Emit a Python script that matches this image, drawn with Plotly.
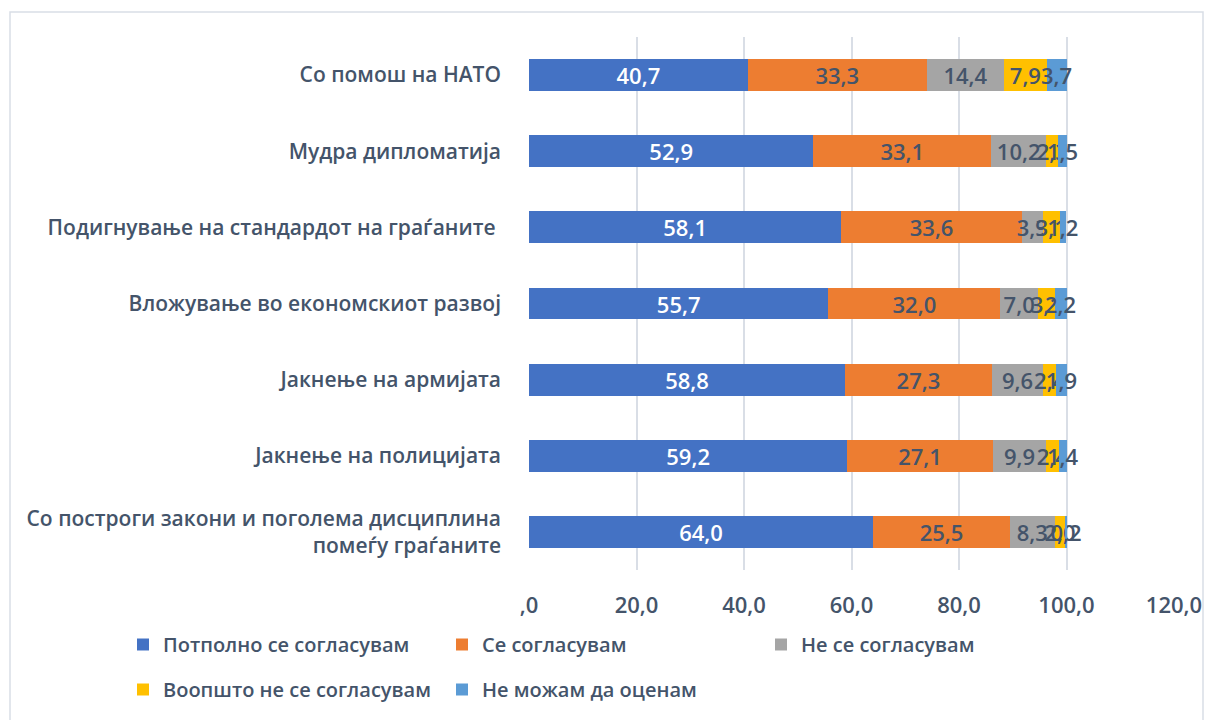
import plotly.graph_objects as go

categories = [
    "Со построги закони и поголема дисциплина<br>помеѓу граѓаните",
    "Јакнење на полицијата",
    "Јакнење на армијата",
    "Вложување во економскиот развој",
    "Подигнување на стандардот на граѓаните ",
    "Мудра дипломатија",
    "Со помош на НАТО",
]
series_names = [
    "Потполно се согласувам",
    "Се согласувам",
    "Не се согласувам",
    "Воопшто не се согласувам",
    "Не можам да оценам",
]
potpolno = [64.0, 59.2, 58.8, 55.7, 58.1, 52.9, 40.7]
se_soglasuvam = [25.5, 27.1, 27.3, 32.0, 33.6, 33.1, 33.3]
ne_se = [8.3, 9.9, 9.6, 7.0, 3.9, 10.2, 14.4]
voopshto = [2.0, 2.4, 2.4, 3.1, 3.1, 2.3, 7.9]
ne_mozam = [0.2, 1.4, 1.9, 2.2, 1.2, 1.5, 3.7]
tick_vals = [0, 20, 40, 60, 80, 100, 120]
tick_text = [",0", "20,0", "40,0", "60,0", "80,0", "100,0", "120,0"]

values = [potpolno, se_soglasuvam, ne_se, voopshto, ne_mozam]
colors = ["#4472C4", "#ED7D31", "#A5A5A5", "#FFC000", "#5B9BD5"]
text_colors = ["#FFFFFF", "#44546A", "#44546A", "#44546A", "#44546A"]
legends = ["legend", "legend", "legend", "legend2", "legend2"]

FONT = "Open Sans"
TXT = "#44546A"
WT = 600

fig = go.Figure()
for name, vals, col, tcol, lg in zip(series_names, values, colors, text_colors, legends):
    fig.add_trace(go.Bar(
        y=categories, x=vals, name=name, orientation="h",
        marker=dict(color=col, line=dict(width=0)),
        text=[f"{v:.1f}".replace(".", ",") for v in vals],
        textposition="inside", insidetextanchor="middle", textangle=0,
        constraintext="none",
        textfont=dict(family=FONT, size=22, color=tcol, weight=WT),
        legend=lg, cliponaxis=False,
    ))

L, R, T, B = 529, 1174, 37, 570
W, H = 1206, 720
pw, ph = R - L, B - T

def px(x):
    return (x - L) / pw

def py(y):
    return (B - y) / ph

fig.update_layout(
    width=W, height=H,
    margin=dict(l=L, r=W - R, t=T, b=H - B, autoexpand=False),
    barmode="stack", bargap=0.58,
    plot_bgcolor="white", paper_bgcolor="white",
    font=dict(family=FONT, color=TXT),
    xaxis=dict(range=[0, 120], tickvals=tick_vals, ticktext=tick_text,
               showgrid=True, gridcolor="#D9DEE6", gridwidth=1.5,
               zeroline=False, showline=False, automargin=False,
               tickfont=dict(family=FONT, size=22, color=TXT, weight=WT),
               ticklabelstandoff=20, fixedrange=True),
    yaxis=dict(showgrid=False, zeroline=False, showline=False, automargin=False,
               tickfont=dict(family=FONT, size=21, color=TXT, weight=WT),
               ticklabelstandoff=27, fixedrange=True),
    legend=dict(orientation="h", x=px(123), y=py(625), xanchor="left", yanchor="top",
                entrywidth=274, font=dict(family=FONT, size=20, color=TXT, weight=WT),
                traceorder="normal", bgcolor="rgba(0,0,0,0)"),
    legend2=dict(orientation="h", x=px(123), y=py(670), xanchor="left", yanchor="top",
                 entrywidth=274, font=dict(family=FONT, size=20, color=TXT, weight=WT),
                 traceorder="normal", bgcolor="rgba(0,0,0,0)"),
    showlegend=True,
)
fig.add_shape(type="rect", xref="paper", yref="paper",
              x0=px(10), x1=px(1203), y0=py(740), y1=py(12),
              line=dict(color="#D9DEE6", width=1.5), fillcolor="rgba(0,0,0,0)", layer="below")

fig.write_html("out.html", config={"displayModeBar": False},
               post_script="document.body.style.margin='0';document.body.style.overflow='hidden';")
